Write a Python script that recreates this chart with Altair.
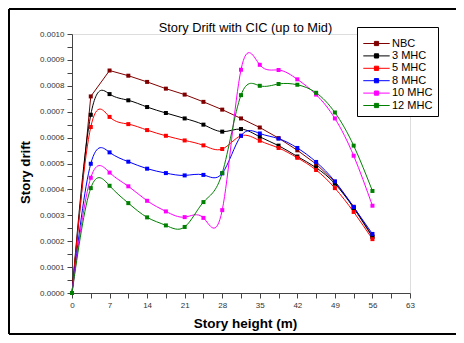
import altair as alt
import pandas as pd

heights = [0, 3.5, 7, 10.5, 14, 17.5, 21, 24.5, 28, 31.5, 35, 38.5, 42, 45.5, 49, 52.5, 56]

series_names = ["NBC", "3 MHC", "5 MHC", "8 MHC", "10 MHC", "12 MHC"]
series_colors = ["#800000", "#000000", "#FF0000", "#0000FF", "#FF00FF", "#008000"]

nbc = [0, 0.000759, 0.000859, 0.000839, 0.000815, 0.000789, 0.000766, 0.000738, 0.000708,
       0.000674, 0.000639, 0.000598, 0.000551, 0.000498, 0.000429, 0.000333, 0.000219]
mhc3 = [0, 0.000688, 0.000768, 0.000744, 0.000718, 0.000695, 0.000674, 0.000650, 0.000623,
        0.000633, 0.000603, 0.000569, 0.000527, 0.000484, 0.000422, 0.000328, 0.000216]
mhc5 = [0, 0.000641, 0.000680, 0.000652, 0.000629, 0.000607, 0.000589, 0.000570, 0.000556,
        0.000607, 0.000588, 0.000560, 0.000522, 0.000475, 0.000405, 0.000313, 0.000208]
mhc8 = [0, 0.000499, 0.000543, 0.000507, 0.000480, 0.000463, 0.000454, 0.000456, 0.000462,
        0.000607, 0.000616, 0.000596, 0.000560, 0.000506, 0.000431, 0.000332, 0.000228]
mhc10 = [0, 0.000445, 0.000465, 0.000412, 0.000356, 0.000315, 0.000293, 0.000290, 0.000320,
         0.000862, 0.000881, 0.000861, 0.000825, 0.000766, 0.000674, 0.000530, 0.000337]
mhc12 = [0, 0.000405, 0.000414, 0.000347, 0.000292, 0.000261, 0.000255, 0.000351, 0.000463,
         0.000764, 0.000800, 0.000807, 0.000804, 0.000773, 0.000697, 0.000569, 0.000394]

title_text = "Story Drift with CIC (up to Mid)"
x_ticks = [i * 3.5 for i in range(19)]
y_ticks = [round(i * 0.00005, 5) for i in range(21)]

rows = []
for name, vals in zip(series_names, [nbc, mhc3, mhc5, mhc8, mhc10, mhc12]):
    for h, v in zip(heights, vals):
        rows.append({"series": name, "height": h, "drift": v})
df = pd.DataFrame(rows)

FONT = "Liberation Sans"

color = alt.Color(
    "series:N",
    scale=alt.Scale(domain=series_names, range=series_colors),
    legend=alt.Legend(
        title=" ",
        titleFontSize=4,
        titlePadding=1,
        orient="none",
        legendX=285,
        legendY=-7,
        strokeColor="#000000",
        fillColor="#ffffff",
        padding=5,
        labelFont=FONT,
        labelFontSize=11,
        labelColor="#000000",
        symbolType="M-2.2,0L2.2,0M-0.35,-0.35L0.35,-0.35L0.35,0.35L-0.35,0.35Z",
        symbolSize=144,
        symbolStrokeWidth=1,
        symbolOffset=8,
        rowPadding=0.4,
        labelOffset=9,
    ),
)

x_enc = alt.X(
    "height:Q",
    scale=alt.Scale(domain=[0, 63], nice=False),
    axis=alt.Axis(
        values=x_ticks,
        labelExpr="datum.value % 7 == 0 ? datum.label : ''",
        title="Story height (m)",
        titleFont=FONT,
        titleFontSize=13.5,
        titleFontWeight="bold",
        titleColor="#000000",
        titleX=173,
        titleY=30,
        titleBaseline="middle",
        labelFont=FONT,
        labelFontSize=8,
        labelColor="#333333",
        labelPadding=3,
        tickSize=5,
        tickColor="#444444",
        domainColor="#444444",
        grid=False,
        labelFlush=False,
    ),
)

y_enc = alt.Y(
    "drift:Q",
    scale=alt.Scale(domain=[0, 0.001], nice=False),
    axis=alt.Axis(
        values=y_ticks,
        labelExpr="round(datum.value * 20000) % 2 == 0 ? format(datum.value, '.4f') : ''",
        title="Story drift",
        titleFont=FONT,
        titleFontSize=13.2,
        titleFontWeight="bold",
        titleColor="#000000",
        titleAngle=-90,
        titleX=-47,
        titleY=138,
        titleBaseline="middle",
        titleAlign="center",
        labelFont=FONT,
        labelFontSize=8,
        labelColor="#333333",
        labelPadding=3,
        tickSize=5,
        tickColor="#444444",
        domainColor="#444444",
        grid=False,
        labelFlush=False,
    ),
)

base = alt.Chart(df)

line_nbc = base.transform_filter(alt.datum.series == "NBC").mark_line(
    strokeWidth=1, interpolate="linear"
).encode(x=x_enc, y=y_enc, color=color)

line_others = base.transform_filter(alt.datum.series != "NBC").mark_line(
    strokeWidth=1, interpolate="natural"
).encode(x=x_enc, y=y_enc, color=color)

points = base.mark_point(shape="square", filled=True, size=16, opacity=1).encode(
    x=x_enc, y=y_enc, color=color
)

frame_df = pd.DataFrame({"k": [0]})
frame = alt.Chart(frame_df)
border_left = frame.mark_rule(color="#000000", strokeWidth=2).encode(
    x=alt.value(-63), y=alt.value(-25), y2=alt.value(300)
)
border_top = frame.mark_rule(color="#000000", strokeWidth=2).encode(
    x=alt.value(-63), x2=alt.value(384), y=alt.value(-25)
)
border_bottom = frame.mark_rule(color="#000000", strokeWidth=2).encode(
    x=alt.value(-63), x2=alt.value(384), y=alt.value(300)
)
title_mark = frame.mark_text(
    font=FONT, fontSize=12.8, color="#000000", align="center", baseline="middle"
).encode(x=alt.value(173.5), y=alt.value(-6), text=alt.value(title_text))

chart = alt.layer(
    line_nbc, line_others, points, border_left, border_top, border_bottom, title_mark
).properties(
    width=338,
    height=259,
    autosize=alt.AutoSizeParams(type="none"),
    padding={"left": 64, "top": 26, "right": 46, "bottom": 42},
).configure_view(stroke=None).configure(background="#ffffff")

chart.save("out.html", embed_options={"renderer": "svg", "actions": False})
